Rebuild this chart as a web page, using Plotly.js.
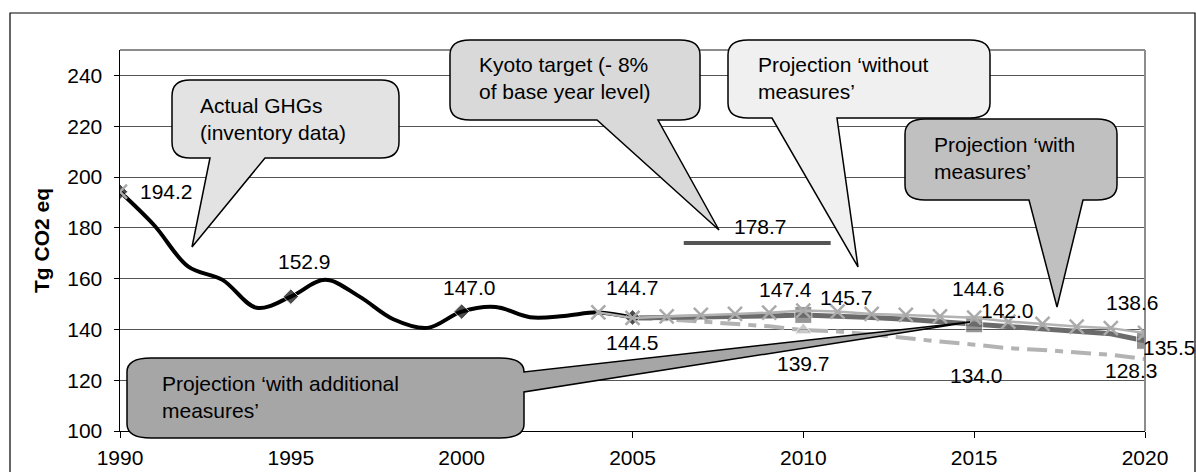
<!DOCTYPE html>
<html><head><meta charset="utf-8">
<script src="https://cdn.plot.ly/plotly-3.0.1.min.js"></script>
<style>html,body{margin:0;padding:0;background:#fff;}#chart{width:1196px;height:472px;}</style>
</head><body><div id="chart"></div>
<script>
// ---------- DATA ----------
const actualYears  = [1990,1991,1992,1993,1994,1995,1996,1997,1998,1999,2000,2001,2002,2003,2004,2005];
const actualValues = [194.2,181.0,164.7,159.5,148.5,152.9,159.5,153.0,144.0,140.6,147.0,148.8,144.8,145.3,146.7,144.7];

const withoutYears  = [1990,2004,2005,2006,2007,2008,2009,2010,2011,2012,2013,2014,2015,2016,2017,2018,2019,2020];
const withoutValues = [194.2,146.7,144.5,145.1,145.7,146.1,146.6,147.4,147.0,146.1,145.7,145.1,144.6,143.1,142.2,141.1,140.5,138.6];

const withYears  = [2005,2006,2007,2008,2009,2010,2011,2012,2013,2014,2015,2016,2017,2018,2019,2020];
const withValues = [144.5,144.6,144.8,145.0,145.3,145.7,145.3,144.7,144.0,143.0,142.0,141.2,140.2,139.2,138.3,135.5];

const addYears  = [2005,2006,2007,2008,2009,2010,2011,2012,2013,2014,2015,2016,2017,2018,2019,2020];
const addValues = [144.5,144.0,143.1,142.3,141.2,139.7,139.2,138.0,136.5,135.2,134.0,132.6,131.9,130.9,130.0,128.3];

const kyotoYears = [2006.5, 2010.8];
const kyotoLine  = [174.0, 174.0];
const kyotoTarget = 178.7;
const kyotoLabelYear = 2008.75;

const xTicks = [1990,1995,2000,2005,2010,2015,2020];
const yTicks = [100,120,140,160,180,200,220,240];

const calloutTexts = {
  actual: 'Actual GHGs<br>(inventory data)',
  kyoto: 'Kyoto target (- 8%<br>of base year level)',
  without: 'Projection \u2018without<br>measures\u2019',
  withm: 'Projection \u2018with<br>measures\u2019',
  add: 'Projection \u2018with additional<br>measures\u2019'
};
const yTitle = 'Tg CO2 eq';

// ---------- GEOMETRY ----------
const FONT = 'Liberation Sans, Arial, sans-serif';
const FS = 21;
const L=120, R=1145, T=50, B=431;
function px(x){return ((x-L)/(R-L)).toFixed(5);}
function py(y){return ((B-y)/(B-T)).toFixed(5);}
function P(x,y){return px(x)+','+py(y);}
function calloutBottom(x0,y0,x1,y1,rx,ry,b1,b2,tx,ty){
  return `M${P(x0+rx,y0)} L${P(x1-rx,y0)} Q${P(x1,y0)} ${P(x1,y0+ry)} L${P(x1,y1-ry)} Q${P(x1,y1)} ${P(x1-rx,y1)} L${P(b2,y1)} L${P(tx,ty)} L${P(b1,y1)} L${P(x0+rx,y1)} Q${P(x0,y1)} ${P(x0,y1-ry)} L${P(x0,y0+ry)} Q${P(x0,y0)} ${P(x0+rx,y0)} Z`;
}
function calloutRight(x0,y0,x1,y1,rx,ry,t1,t2,tx,ty){
  return `M${P(x0+rx,y0)} L${P(x1-rx,y0)} Q${P(x1,y0)} ${P(x1,y0+ry)} L${P(x1,t1)} L${P(tx,ty)} L${P(x1,t2)} L${P(x1,y1-ry)} Q${P(x1,y1)} ${P(x1-rx,y1)} L${P(x0+rx,y1)} Q${P(x0,y1)} ${P(x0,y1-ry)} L${P(x0,y0+ry)} Q${P(x0,y0)} ${P(x0+rx,y0)} Z`;
}
function pathShape(path, fill){
  return {type:'path', xref:'paper', yref:'paper', path:path, fillcolor:fill, opacity:1, line:{color:'#000', width:1.5}, layer:'above'};
}

// ---------- TRACES ----------
const wx = [withoutYears[0], null].concat(withoutYears.slice(1));
const wy = [withoutValues[0], null].concat(withoutValues.slice(1));

const traces = [
  {x:addYears, y:addValues, mode:'lines+markers', type:'scatter',
   line:{color:'#b3b3b3', width:4, dash:'20px,8px,8px,8px'},
   marker:{symbol:'triangle-up', color:'#b3b3b3', size:addYears.map(y=>y===2010?15:0)}, hoverinfo:'skip'},
  {x:withYears, y:withValues, mode:'lines+markers', type:'scatter',
   line:{color:'#6b6b6b', width:5},
   marker:{symbol:'square', color:'#6b6b6b', size:withYears.map(y=>(y%5===0&&y>2005)?17:0)}, hoverinfo:'skip'},
  {x:actualYears, y:actualValues, mode:'lines+markers', type:'scatter',
   line:{color:'#000', width:4, shape:'spline', smoothing:1},
   marker:{symbol:'diamond', color:'#000', size:actualYears.map(y=>y%5===0?12:0)}, hoverinfo:'skip'},
  {x:wx, y:wy, mode:'lines+markers', type:'scatter', connectgaps:false,
   line:{color:'#b3b3b3', width:2.5},
   marker:{symbol:'x-thin-open', size:14, color:'#aaaaaa', line:{width:2.5, color:'#aaaaaa'}}, hoverinfo:'skip'},
  {x:kyotoYears, y:kyotoLine, mode:'lines', type:'scatter',
   line:{color:'#555555', width:4}, hoverinfo:'skip'}
];

// ---------- LABELS ----------
function lab(x,y,xs,ys,anchor){
  return {x:x, y:y, xref:'x', yref:'y', text:y.toFixed(1), showarrow:false,
          xshift:xs, yshift:ys, xanchor:anchor||'center', yanchor:'middle',
          font:{family:FONT, size:FS, color:'#000'}};
}
const ai = y=>actualYears.indexOf(y), wi = y=>withoutYears.indexOf(y), mi = y=>withYears.indexOf(y), di = y=>addYears.indexOf(y);
const annotations = [
  lab(1990, actualValues[ai(1990)], 18, 0, 'left'),
  lab(1995, actualValues[ai(1995)], 14, 35),
  lab(2000, actualValues[ai(2000)], 8, 24),
  lab(2005, actualValues[ai(2005)], 0, 30),
  lab(2005, withValues[mi(2005)], 0, -25),
  lab(2010, withoutValues[wi(2010)], -18, 21),
  lab(2010, withValues[mi(2010)], 43, 17),
  lab(2010, addValues[di(2010)], 0, -33),
  lab(2015, withoutValues[wi(2015)], 4, 29),
  lab(2015, withValues[mi(2015)], 33, 14),
  lab(2015, addValues[di(2015)], 2, -31),
  lab(2020, withoutValues[wi(2020)], -13, 30),
  lab(2020, withValues[mi(2020)], 24, -7),
  lab(2020, addValues[di(2020)], -14, -11),
  lab(kyotoLabelYear, kyotoTarget, 0, 5)
];
function ctext(txt, x, y){
  return {xref:'paper', yref:'paper', x:+px(x), y:+py(y), text:txt, showarrow:false,
          xanchor:'left', yanchor:'middle', align:'left', font:{family:FONT, size:FS, color:'#000'}};
}
annotations.push(ctext(calloutTexts.actual, 198, 119));
annotations.push(ctext(calloutTexts.kyoto, 477, 78));
annotations.push(ctext(calloutTexts.without, 756, 78));
annotations.push(ctext(calloutTexts.withm, 932, 158));
annotations.push(ctext(calloutTexts.add, 160, 397));

// ---------- SHAPES ----------
const shapes = [
  {type:'rect', xref:'paper', yref:'paper', x0:+px(10), x1:+px(1195), y0:+py(13), y1:+py(475), line:{color:'#000', width:1.2}, fillcolor:'rgba(0,0,0,0)', layer:'above'},
  {type:'line', xref:'paper', yref:'paper', x0:0, x1:1, y0:1, y1:1, line:{color:'#8c8c8c', width:2}, layer:'above'},
  {type:'line', xref:'paper', yref:'paper', x0:1, x1:1, y0:0, y1:1, line:{color:'#8c8c8c', width:2}, layer:'above'},
  pathShape(calloutBottom(172,80,399,158,18,16,210,265,192,247), '#e3e3e3'),
  pathShape(calloutBottom(450,40,700,120,20,15,597,658,719,230), '#d9d9d9'),
  pathShape(calloutBottom(728,40,990,118,20,15,772,837,858,267), '#f0f0f0'),
  pathShape(calloutBottom(905,119,1117,200,20,15,1029,1083,1057,307), '#c0c0c0'),
  pathShape(calloutRight(127,358,524,438,24,14,372,392,970,322), '#a6a6a6')
];

const layout = {
  width:1196, height:472,
  margin:{l:L, r:1196-R, t:T, b:472-B, pad:0},
  paper_bgcolor:'#fff', plot_bgcolor:'#fff',
  showlegend:false,
  font:{family:FONT, size:FS, color:'#000'},
  xaxis:{range:[1990,2020], tickvals:xTicks, ticktext:xTicks.map(String), ticks:'outside', ticklen:6, tickcolor:'#000',
         ticklabelstandoff:2,
         showgrid:false, zeroline:false, showline:true, linecolor:'#000', linewidth:1,
         tickfont:{family:FONT, size:FS, color:'#000'}, fixedrange:true},
  yaxis:{range:[100,250], tickvals:yTicks, ticktext:yTicks.map(String), ticks:'outside', ticklen:5, tickcolor:'#000',
         ticklabelstandoff:7,
         showgrid:true, gridcolor:'#555', gridwidth:1, zeroline:false, showline:true, linecolor:'#000', linewidth:1.5,
         tickfont:{family:FONT, size:FS, color:'#000'},
         title:{text:'<b>'+yTitle+'</b>', font:{family:FONT, size:FS, color:'#000'}, standoff:12}, fixedrange:true},
  shapes:shapes,
  annotations:annotations
};
Plotly.newPlot('chart', traces, layout, {staticPlot:true, displayModeBar:false});
</script></body></html>
